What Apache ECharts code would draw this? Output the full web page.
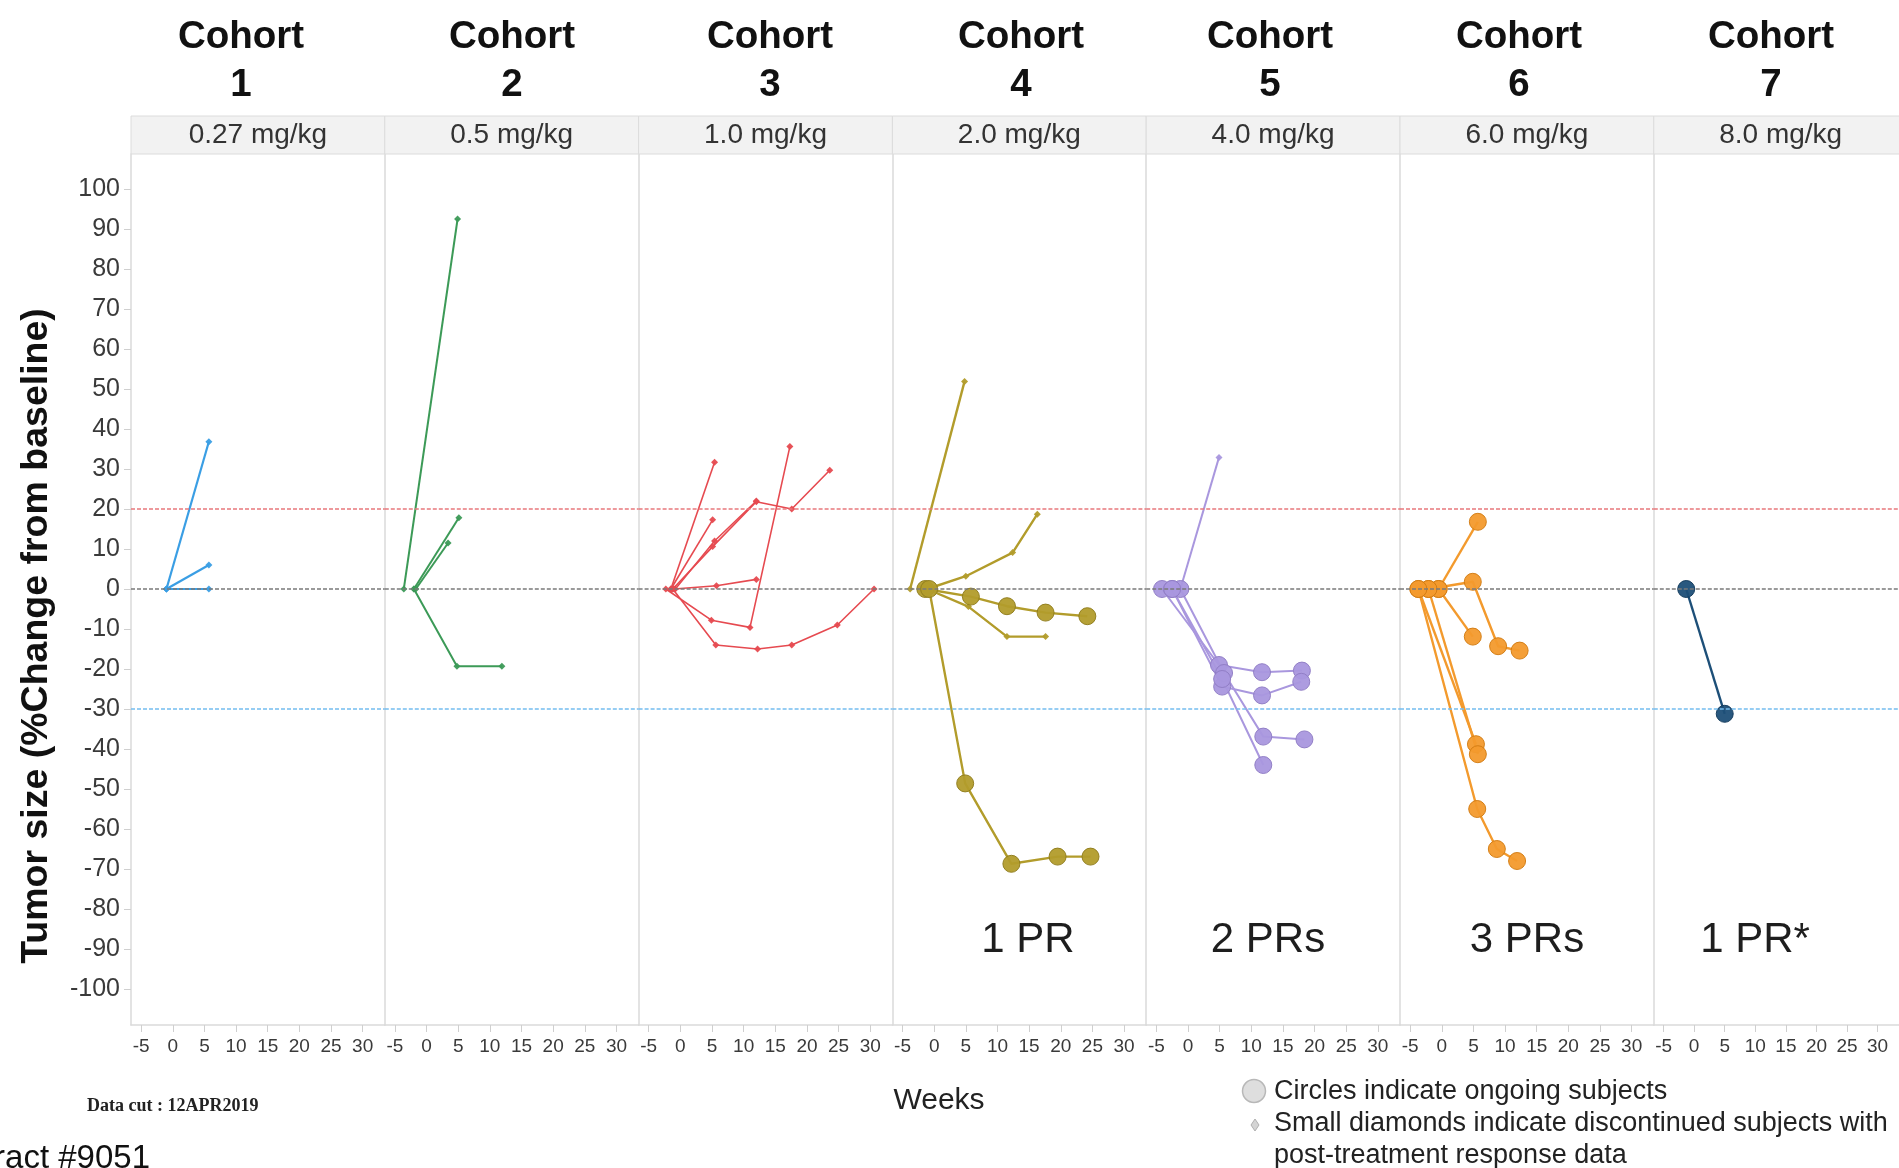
<!DOCTYPE html>
<html>
<head>
<meta charset="utf-8">
<script src="https://cdn.jsdelivr.net/npm/echarts@6/dist/echarts.min.js"></script>
<style>
  html, body { margin: 0; padding: 0; background: #ffffff; }
  #chart { width: 1899px; height: 1168px; }
</style>
</head>
<body>
<div id="chart"></div>
<script>
// ---------- DATA ----------
const cohortNames = ['Cohort\n1', 'Cohort\n2', 'Cohort\n3', 'Cohort\n4', 'Cohort\n5', 'Cohort\n6', 'Cohort\n7'];
const doseLabels = ['0.27 mg/kg', '0.5 mg/kg', '1.0 mg/kg', '2.0 mg/kg', '4.0 mg/kg', '6.0 mg/kg', '8.0 mg/kg'];
const responseLabels = ['', '', '', '1 PR', '2 PRs', '3 PRs', '1 PR*'];
const xTickValues = [-5, 0, 5, 10, 15, 20, 25, 30];
const yTickValues = [-100, -90, -80, -70, -60, -50, -40, -30, -20, -10, 0, 10, 20, 30, 40, 50, 60, 70, 80, 90, 100];
const referenceLines = [20, 0, -30];

// each subject: list of [week, % change from baseline]
const cohort1Subjects = [
  [[-1.0, 0], [5.7, 36.8]],
  [[-1.0, 0], [5.7, 6]],
  [[-1.0, 0], [5.7, 0]]
];
const cohort1Ongoing = [false, false, false];

const cohort2Subjects = [
  [[-3.6, 0], [4.9, 92.5]],
  [[-2.0, 0], [5.1, 17.8]],
  [[-1.7, 0], [3.4, 11.5]],
  [[-2.0, 0], [4.8, -19.3], [11.9, -19.3]]
];
const cohort2Ongoing = [false, false, false, false];

const cohort3Subjects = [
  [[-1.5, 0], [5.4, 31.7]],
  [[-1.5, 0], [5.1, 17.3]],
  [[-1.2, 0], [5.1, 10.6], [12.0, 21.8], [17.6, 20], [23.6, 29.7]],
  [[-0.8, 0], [5.4, 12], [12.0, 22]],
  [[-1.0, 0], [5.7, 0.8], [12.0, 2.4]],
  [[-2.3, 0], [4.9, -7.8], [11.0, -9.6], [17.3, 35.6]],
  [[-1.2, 0], [5.6, -14], [12.2, -15], [17.6, -14], [24.8, -9], [30.6, 0]]
];
const cohort3Ongoing = [false, false, false, false, false, false, false];

const cohort4Subjects = [
  [[-3.8, 0], [4.8, 51.9]],
  [[-1.1, 0], [5.0, 3.2], [12.4, 9.1], [16.3, 18.7]],
  [[-1.4, 0], [5.8, -1.9], [11.5, -4.3], [17.6, -5.9], [24.2, -6.8]],
  [[-1.1, 0], [5.4, -4.4], [11.5, -11.9], [17.6, -11.9]],
  [[-0.8, 0], [4.9, -48.6], [12.2, -68.7], [19.5, -66.9], [24.7, -66.9]]
];
const cohort4Ongoing = [false, false, true, false, true];

const cohort5Subjects = [
  [[-1.2, 0], [4.9, 32.9]],
  [[-4.1, 0], [4.9, -19], [11.7, -20.8], [18.0, -20.4]],
  [[-2.5, 0], [5.4, -24.4], [11.7, -26.6], [17.9, -23.2]],
  [[-1.2, 0], [5.7, -21], [11.9, -36.9], [18.4, -37.6]],
  [[-2.5, 0], [5.4, -22.5], [11.9, -44]]
];
const cohort5Ongoing = [false, true, true, true, true];

const cohort6Subjects = [
  [[-0.5, 0], [5.7, 16.8]],
  [[-2.1, 0], [4.9, 1.8], [8.9, -14.3], [12.3, -15.4]],
  [[-0.5, 0], [4.9, -11.9]],
  [[-3.7, 0], [5.4, -38.8]],
  [[-2.1, 0], [5.7, -41.3]],
  [[-3.7, 0], [5.6, -55], [8.7, -65], [11.9, -68]]
];
const cohort6Ongoing = [true, true, true, true, true, true];

const cohort7Subjects = [
  [[-1.3, 0], [5.0, -31.2]]
];
const cohort7Ongoing = [true];

// ---------- STYLE / LAYOUT ----------
const cohortColors = ['#3a9ee4', '#3c9a57', '#e64a50', '#b29c2b', '#a997de', '#f39a2d', '#1d4f78'];
const cohortBorders = ['#2a7fc0', '#2b7a43', '#c43338', '#8f7c1c', '#8f7cc4', '#d27b12', '#123a5c'];
const lineWidths = [2.2, 2, 1.6, 2.4, 2, 2.4, 2.4];
const allSubjects = [cohort1Subjects, cohort2Subjects, cohort3Subjects, cohort4Subjects, cohort5Subjects, cohort6Subjects, cohort7Subjects];
const allOngoing = [cohort1Ongoing, cohort2Ongoing, cohort3Ongoing, cohort4Ongoing, cohort5Ongoing, cohort6Ongoing, cohort7Ongoing];

const panelLeft0 = 131, panelW = 253.8, plotTop = 154, plotBottom = 1025;
const weeksMin = -6.6, weeksMax = 33.5;
const yMin = -109, yMax = 108.75;
const titleCenters = [241, 512, 770, 1021, 1270, 1519, 1771];
const annotationCenters = [0, 0, 0, 1028, 1268, 1527, 1755];
const FONT = '"Liberation Sans", Arial, Helvetica, sans-serif';

const grids = [], xAxes = [], yAxes = [], series = [], graphics = [];
for (let i = 0; i < 7; i++) {
  const left = panelLeft0 + i * panelW;
  grids.push({ left: left, top: plotTop, width: panelW, height: plotBottom - plotTop, containLabel: false });
  xAxes.push({
    type: 'value', gridIndex: i, min: weeksMin, max: weeksMax,
    axisLine: { show: true, onZero: false, lineStyle: { color: '#dadada', width: 1.5 } },
    axisTick: { show: true, customValues: xTickValues, length: 7, lineStyle: { color: '#cfcfcf' } },
    axisLabel: { show: true, customValues: xTickValues, color: '#3a3a3a', fontSize: 19, fontFamily: FONT, margin: 12 },
    splitLine: { show: false }
  });
  yAxes.push({
    type: 'value', gridIndex: i, min: yMin, max: yMax,
    axisLine: { show: true, onZero: false, lineStyle: { color: '#dadada', width: 1.5 } },
    axisTick: { show: i === 0, customValues: yTickValues, length: 7, lineStyle: { color: '#cfcfcf' } },
    axisLabel: { show: i === 0, customValues: yTickValues, color: '#3a3a3a', fontSize: 25, fontFamily: FONT, margin: 11 },
    splitLine: { show: false }
  });
  // reference lines
  series.push({
    type: 'line', xAxisIndex: i, yAxisIndex: i, data: [], z: 1, silent: true,
    markLine: {
      silent: true, symbol: ['none', 'none'], label: { show: false },
      data: [
        { yAxis: referenceLines[0], lineStyle: { color: '#e8787c', type: [4, 2], width: 1.5 } },
        { yAxis: referenceLines[1], lineStyle: { color: '#7a7a7a', type: [4, 2], width: 1.5 } },
        { yAxis: referenceLines[2], lineStyle: { color: '#74bdf0', type: [4, 2], width: 1.5 } }
      ]
    }
  });
  allSubjects[i].forEach((pts, j) => {
    const ongoing = allOngoing[i][j];
    series.push({
      type: 'line', xAxisIndex: i, yAxisIndex: i, data: pts, z: ongoing ? 4 : 3,
      showSymbol: true, symbol: ongoing ? 'circle' : 'diamond', symbolSize: ongoing ? 17 : 7,
      lineStyle: { color: cohortColors[i], width: lineWidths[i] },
      itemStyle: { color: cohortColors[i], borderColor: cohortBorders[i], borderWidth: ongoing ? 1 : 0, opacity: 0.95 },
      emphasis: { disabled: true }, silent: true, animation: false
    });
  });
  // header strip
  graphics.push({
    type: 'rect', shape: { x: left, y: 116, width: panelW, height: 38 },
    style: { fill: '#f2f2f2', stroke: '#dcdcdc', lineWidth: 1 }, z: 10
  });
  graphics.push({
    type: 'text', z: 11,
    style: { x: left + panelW / 2, y: 135, text: doseLabels[i], font: '28px ' + FONT, fill: '#333', textAlign: 'center', textVerticalAlign: 'middle' }
  });
  graphics.push({
    type: 'text', z: 11,
    style: { x: titleCenters[i], y: 61, text: cohortNames[i], font: 'bold 38.5px ' + FONT, fill: '#111', textAlign: 'center', textVerticalAlign: 'middle', lineHeight: 48 }
  });
  if (responseLabels[i]) {
    graphics.push({
      type: 'text', z: 11,
      style: { x: annotationCenters[i], y: 940, text: responseLabels[i], font: '42px ' + FONT, fill: '#1e1e1e', textAlign: 'center', textVerticalAlign: 'middle' }
    });
  }
}

// axis title, notes and legend
graphics.push({
  type: 'text', z: 11, rotation: Math.PI / 2, x: 37, y: 636,
  style: { x: 0, y: 0, text: 'Tumor size (%Change from baseline)', font: 'bold 37.5px ' + FONT, fill: '#111', textAlign: 'center', textVerticalAlign: 'middle' }
});
graphics.push({
  type: 'text', z: 11,
  style: { x: 939, y: 1101, text: 'Weeks', font: '30px ' + FONT, fill: '#222', textAlign: 'center', textVerticalAlign: 'middle' }
});
graphics.push({
  type: 'text', z: 11,
  style: { x: 87, y: 1106, text: 'Data cut : 12APR2019', font: 'bold 18px "Liberation Serif", "Times New Roman", serif', fill: '#222', textAlign: 'left', textVerticalAlign: 'middle' }
});
graphics.push({
  type: 'text', z: 11,
  style: { x: 150, y: 1142, text: 'Abstract #9051', font: '33px ' + FONT, fill: '#111', textAlign: 'right', textVerticalAlign: 'top' }
});
graphics.push({
  type: 'circle', z: 11, shape: { cx: 1254, cy: 1091, r: 11.5 },
  style: { fill: '#dedede', stroke: '#b8b8b8', lineWidth: 1.5 }
});
graphics.push({
  type: 'polygon', z: 11, shape: { points: [[1255, 1119], [1259, 1125], [1255, 1131], [1251, 1125]] },
  style: { fill: '#d4d4d4', stroke: '#b0b0b0', lineWidth: 1 }
});
graphics.push({
  type: 'text', z: 11,
  style: { x: 1274, y: 1092, text: 'Circles indicate ongoing subjects', font: '27px ' + FONT, fill: '#222', textAlign: 'left', textVerticalAlign: 'middle' }
});
graphics.push({
  type: 'text', z: 11,
  style: { x: 1274, y: 1140, text: 'Small diamonds indicate discontinued subjects with\npost-treatment response data', font: '27px ' + FONT, fill: '#222', textAlign: 'left', textVerticalAlign: 'middle', lineHeight: 32 }
});

const chart = echarts.init(document.getElementById('chart'), null, { renderer: 'canvas' });
chart.setOption({
  animation: false,
  backgroundColor: '#ffffff',
  grid: grids,
  xAxis: xAxes,
  yAxis: yAxes,
  series: series,
  graphic: graphics
});
</script>
</body>
</html>
